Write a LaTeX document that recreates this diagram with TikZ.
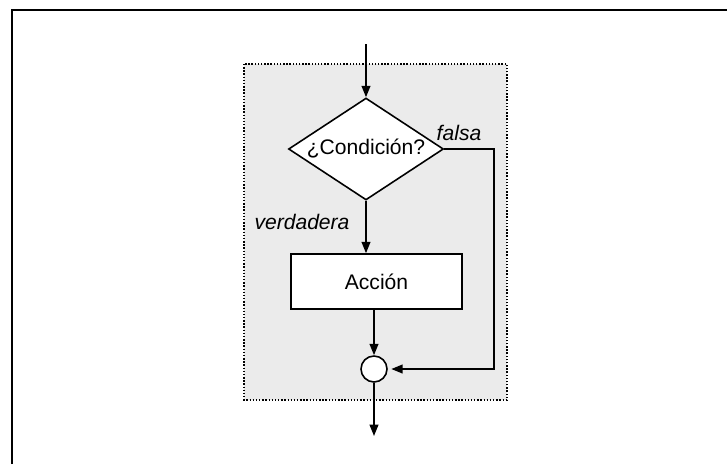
\documentclass[tikz,border=0pt]{standalone}
\usepackage{fontspec}
\setmainfont{Liberation Sans}
\usetikzlibrary{shapes.geometric,arrows.meta}

\begin{document}
\begin{tikzpicture}[x=0.02cm, y=-0.02cm,
        flecha/.style={draw, line width=1pt, -{Triangle[length=6.5pt,width=5pt]}},
        linea/.style={draw, line width=1pt},
        etiqueta/.style={font=\fontsize{12}{14}\selectfont\itshape},
        caja/.style={draw, fill=white, line width=0.9pt, font=\fontsize{12}{14}\selectfont}]
        % Fix the size of the picture
        \useasboundingbox (0,0) rectangle (727,464);

        % Frame lines along the top and the left
        \draw [line width=1.4pt] (12,464) -- (12,10) -- (727,10);

        % Shaded area with a dotted border
        \fill [black!8] (244,64) rectangle (507,400);
        \draw [densely dotted, line width=0.8pt] (244,64) rectangle (507,400);

        % Decision, action and junction
        \node [caja, diamond, aspect=1.52, inner sep=0pt, minimum width=3.1cm, minimum height=2.04cm] (cond) at (366,149) {¿Condición?};
        \node [caja, rectangle, minimum width=3.42cm, minimum height=1.1cm] (accion) at (376.5,281.5) {Acción};
        \node [caja, circle, inner sep=0pt, minimum size=0.52cm] (union) at (374,369) {};

        % Free ends of the flow and the corner of the false branch
        \coordinate (entrada) at (366,44);
        \coordinate (salida) at (374,436);
        \coordinate (esquina) at (494,149);

        % Labels of the two branches
        \node [etiqueta] (falsa) at (459,133) {falsa};
        \node [etiqueta] (verdadera) at (302,222) {verdadera};

        % Connectors
        \draw [flecha] (entrada) -- (cond.north);
        \draw [flecha] (cond.south) -- (cond.south |- accion.north);
        \draw [flecha] (union |- accion.south) -- (union.north);
        \draw [flecha, shorten >=2pt] (cond.east) -- (esquina) |- (union.east);
        \draw [flecha] (union.south) -- (salida);
    \end{tikzpicture}
\end{document}
